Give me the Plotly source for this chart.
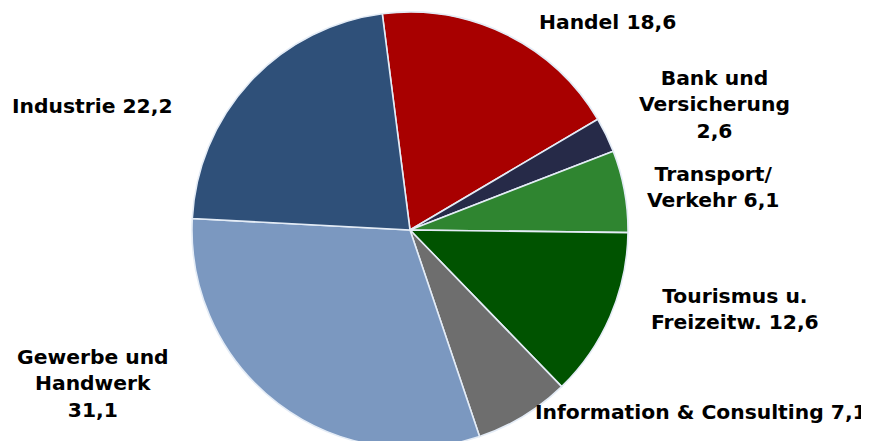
import plotly.graph_objects as go

categories = ["Handel", "Bank und Versicherung", "Transport/ Verkehr", "Tourismus u. Freizeitw.",
              "Information & Consulting", "Gewerbe und Handwerk", "Industrie"]
values = [18.6, 2.6, 6.1, 12.6, 7.1, 31.1, 22.2]
label_lines = [["Handel {v}"], ["Bank und", "Versicherung", "{v}"], ["Transport/", "Verkehr {v}"],
               ["Tourismus u.", "Freizeitw. {v}"], ["Information & Consulting {v}"],
               ["Gewerbe und", "Handwerk", "{v}"], ["Industrie {v}"]]
colors = ["#A80000", "#262A48", "#2F8530", "#005300", "#6E6E6E", "#7B98C0", "#2F5079"]

W, H = 869, 441
OFF = 8          # page body margin
MT, MB = 4, 1    # plot area margins
PH = H - MT - MB

# label anchor positions on screen in pixels (center x, center y)
label_pos = [(607, 22), (714, 104), (713, 187), (735, 309), (701, 412), (93, 383), (92, 106)]

cx = 410 - OFF
fig = go.Figure(go.Pie(
    labels=categories, values=values, sort=False, direction="clockwise", rotation=-7.3,
    marker=dict(colors=colors, line=dict(color="#E4ECF6", width=1.6)),
    textinfo="none", hoverinfo="label+value", showlegend=False,
    domain=dict(x=[cx / W - 0.3, cx / W + 0.3], y=[0, 1]),
))

fmt = lambda v: f"{v:.1f}".replace(".", ",")
for lines, v, (px, py) in zip(label_lines, values, label_pos):
    text = "<br>".join(l.format(v=fmt(v)) for l in lines)
    fig.add_annotation(x=(px - OFF) / W, y=1 - (py - OFF - MT) / PH, xref="paper", yref="paper",
                       text=text, showarrow=False, xanchor="center", yanchor="middle", align="center",
                       font=dict(family="DejaVu Sans", size=20.3, color="black", weight="bold"))

fig.update_layout(width=W, height=H, margin=dict(l=0, r=0, t=MT, b=MB),
                  paper_bgcolor="white", plot_bgcolor="white")
fig.write_html("out.html")
